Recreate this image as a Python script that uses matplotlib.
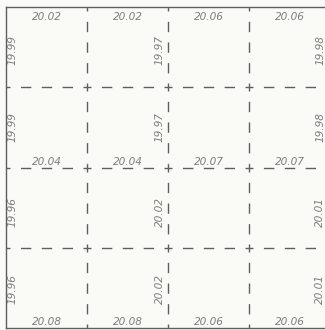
import matplotlib
matplotlib.use("Agg")
import matplotlib.pyplot as plt

# valeurs
haut_ligne1 = ["20.02", "20.02", "20.06", "20.06"]
bas_ligne2 = ["20.04", "20.04", "20.07", "20.07"]
bas_ligne4 = ["20.08", "20.08", "20.06", "20.06"]
cotes_haut = ["19.99", "19.97", "19.98"]   # lignes 1 et 2
cotes_bas = ["19.96", "20.02", "20.01"]    # lignes 3 et 4

coul_trait = "#5e5e5e"
coul_texte = "#7c7c7c"
fond = "#fafbf7"

W, H = 325, 330
fig = plt.figure(figsize=(W / 100, H / 100), dpi=100, facecolor=fond)
ax = fig.add_axes([6 / W, 2 / H, 324 / W, 321 / H])
ax.set_facecolor(fond)
ax.set_xlim(0, 4)
ax.set_ylim(4, 0)
ax.set_xticks([])
ax.set_yticks([])
for cote in ["left", "top", "bottom"]:
    ax.spines[cote].set_color(coul_trait)
    ax.spines[cote].set_linewidth(1.0)
ax.spines["right"].set_visible(False)

px_x = 324 / 4   # pixels par unite
px_y = 321 / 4
demi_croix = 4   # pixels

def segment(x0, y0, x1, y1):
    # croix pleine aux deux bouts, tirets au milieu
    horiz = y0 == y1
    px = px_x if horiz else px_y
    h = demi_croix / px
    if horiz:
        ax.plot([x0, x0 + h], [y0, y0], color=coul_trait, lw=1.0, solid_capstyle="butt")
        ax.plot([x1 - h, x1], [y0, y0], color=coul_trait, lw=1.0, solid_capstyle="butt")
        a, b = (x0 + h, y0), (x1 - h, y1)
        longueur = (x1 - x0) * px - 2 * demi_croix
    else:
        ax.plot([x0, x0], [y0, y0 + h], color=coul_trait, lw=1.0, solid_capstyle="butt")
        ax.plot([x0, x0], [y1 - h, y1], color=coul_trait, lw=1.0, solid_capstyle="butt")
        a, b = (x0, y0 + h), (x1, y1 - h)
        longueur = (y1 - y0) * px - 2 * demi_croix
    d = longueur / 7 * 72 / 100
    ax.plot([a[0], b[0]], [a[1], b[1]], color=coul_trait, lw=1.0,
            linestyle=(d, (d, d)), dash_capstyle="butt")

for k in [1, 2, 3]:
    for i in range(4):
        segment(k, i, k, i + 1)
        segment(i, k, i + 1, k)

style = dict(color=coul_texte, fontsize=7.6, style="italic", ha="center", va="center")

for j in range(4):
    ax.text(j + 0.5, 0.13, haut_ligne1[j], **style)
    ax.text(j + 0.5, 1.93, bas_ligne2[j], **style)
    ax.text(j + 0.5, 3.92, bas_ligne4[j], **style)

x_cotes = [0.075, 1.9, 3.88]
for yc in [0.54, 1.50]:
    for xc, lab in zip(x_cotes, cotes_haut):
        ax.text(xc, yc, lab, rotation=90, **style)
for yc in [2.55, 3.51]:
    for xc, lab in zip(x_cotes, cotes_bas):
        ax.text(xc, yc, lab, rotation=90, **style)

fig.savefig("out.png", dpi=100, facecolor=fond)
